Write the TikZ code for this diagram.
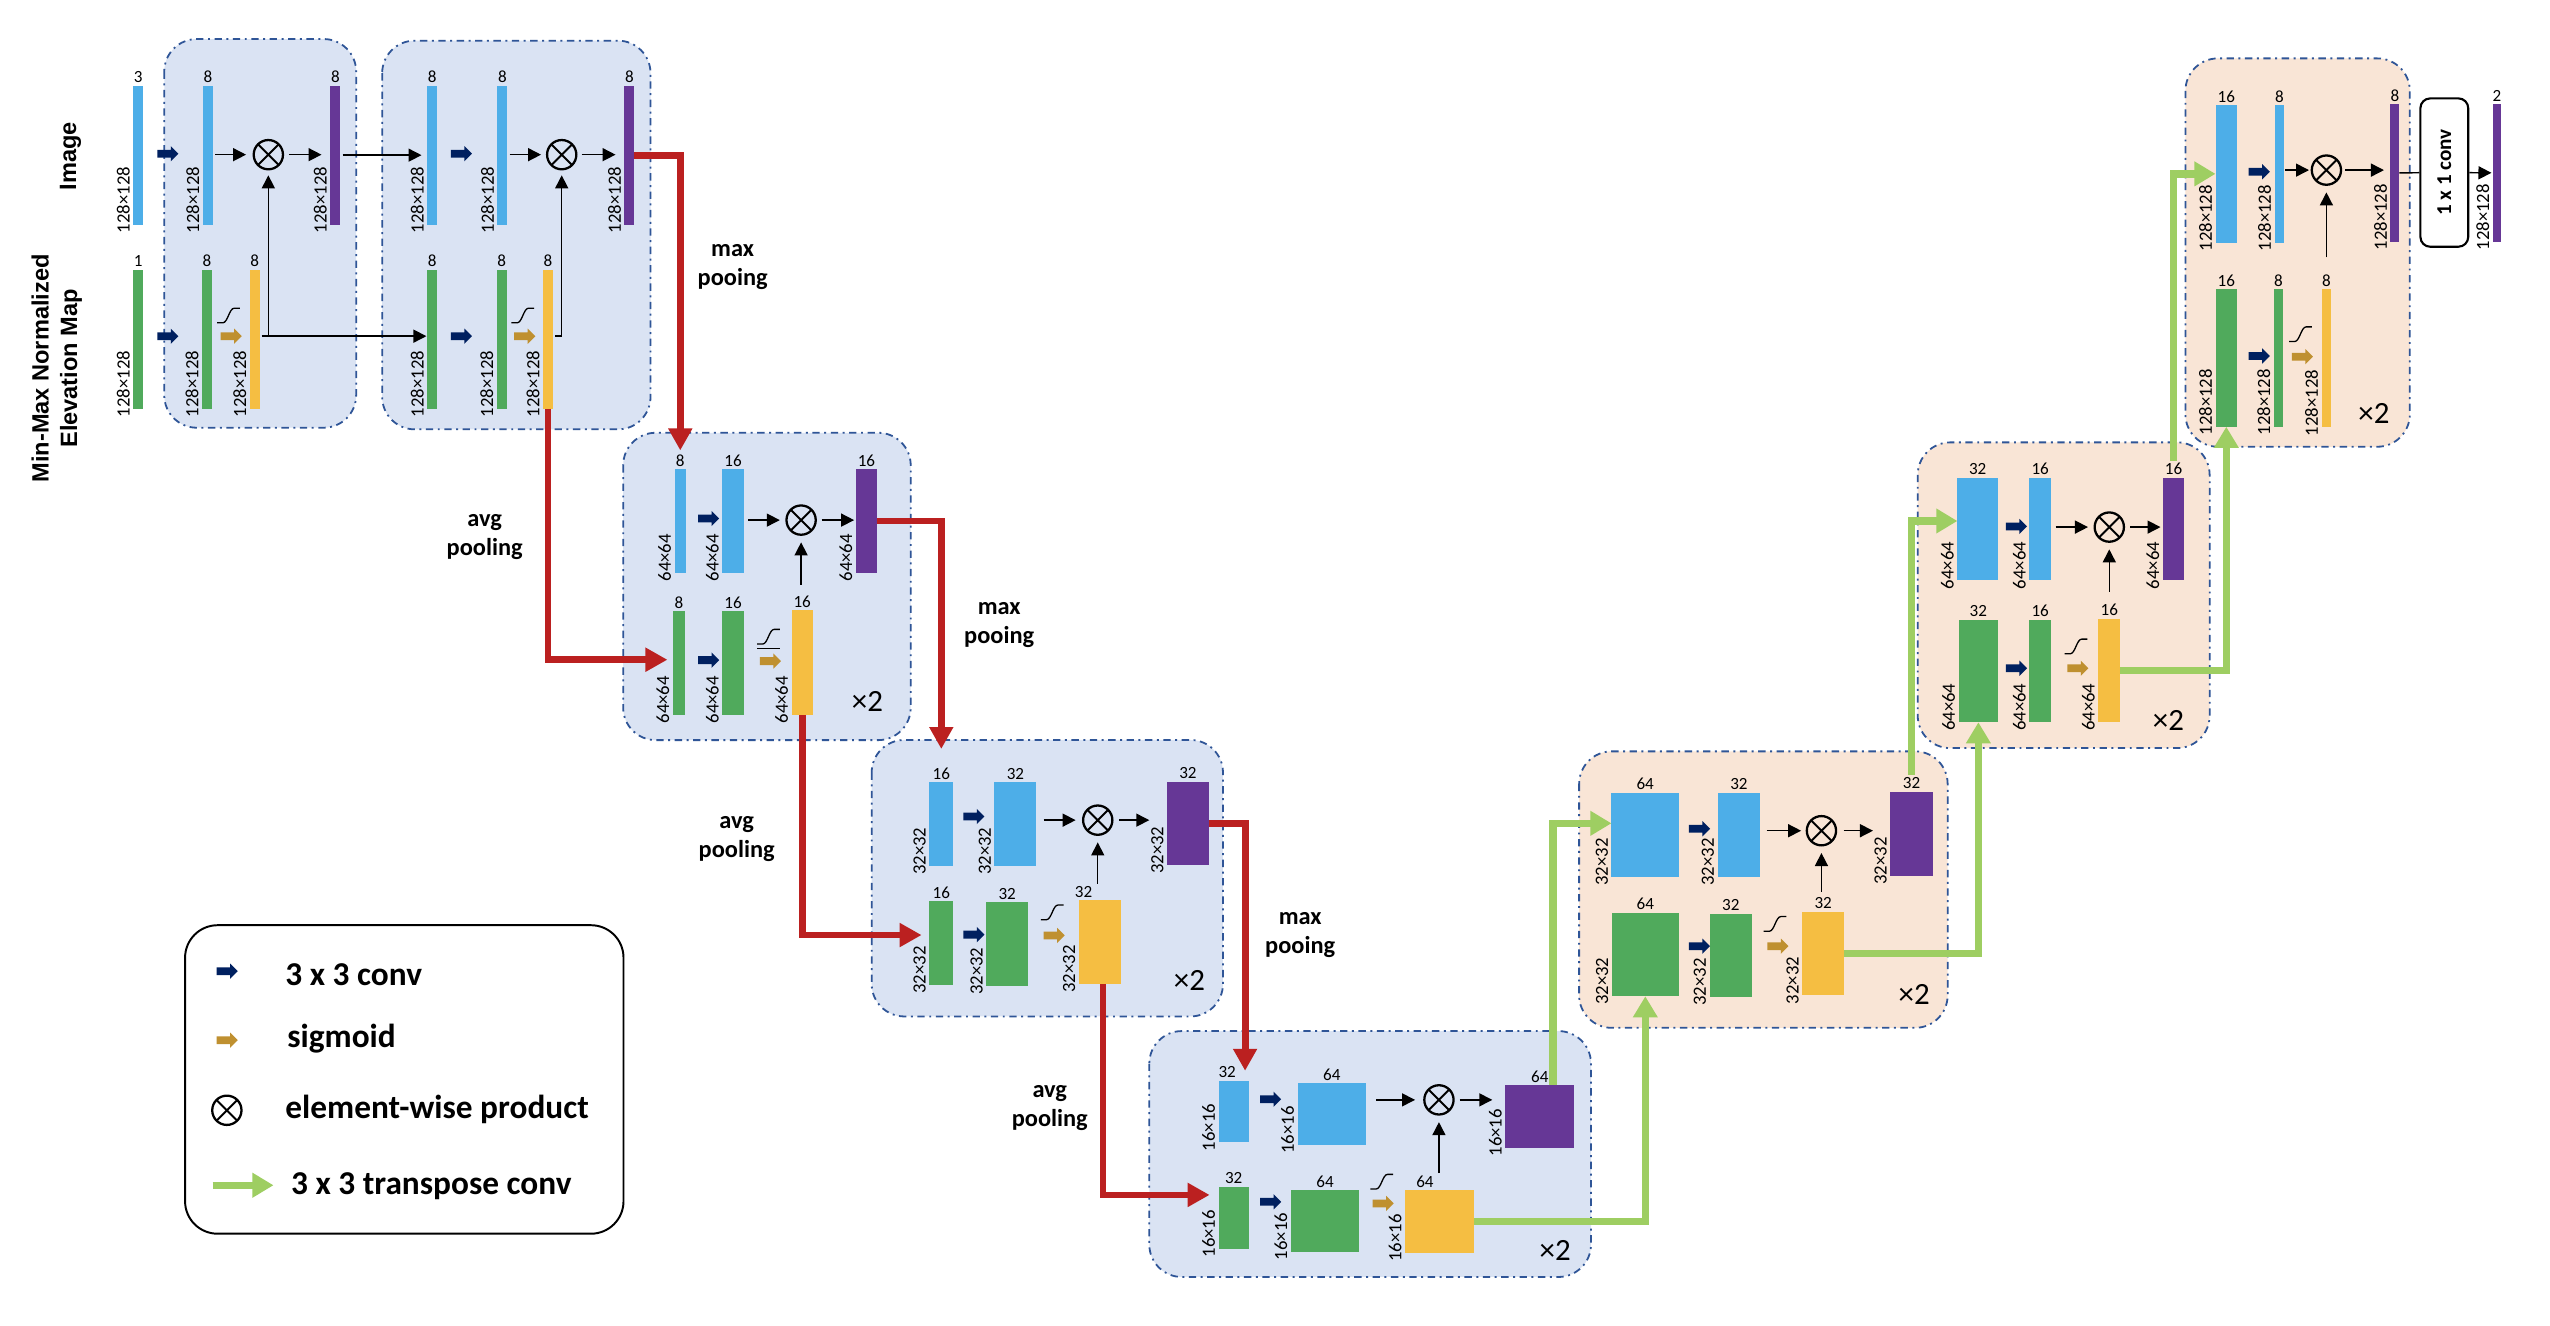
\documentclass[tikz,border=0pt]{standalone}
\usepackage{fontspec}
\setmainfont{Carlito}
\newfontfamily\headfont{Liberation Sans}
\usepackage{tikz}
\usetikzlibrary{positioning,arrows.meta,shapes.arrows,calc}
\definecolor{fmblue}  {RGB}{77,174,232}
\definecolor{fmgreen} {RGB}{80,170,92}
\definecolor{fmpurple}{RGB}{102,55,150}
\definecolor{fmyellow}{RGB}{245,190,66}
\definecolor{encfill} {RGB}{218,227,243}
\definecolor{decfill} {RGB}{249,229,214}
\definecolor{blkline} {RGB}{47,85,151}
\definecolor{convcol} {RGB}{0,32,96}
\definecolor{sigcol}  {RGB}{191,144,48}
\definecolor{poolcol} {RGB}{187,32,32}
\definecolor{upcol}   {RGB}{158,206,98}
% feature map: [shift of channel label] name, x, y, width, height, colour, channels, size
\newcommand{\fmap}[9][0]{%
  \node[fm={#5}{#6},fill=#7] (#2) at (#3,#4) {};
  \node[chn,xshift=#1pt] (#2n) at (#2.north) {#8};
  \node[dims] (#2d) at ($(#2.south west)+(-1.5,6)$) {#9};}

\begin{document}
\begin{tikzpicture}[
  x=1pt,y=-1pt,
  fm/.style 2 args={rectangle,draw=none,inner sep=0pt,outer sep=0pt,
               anchor=north west,minimum width=#1pt,minimum height=#2pt},
  chn/.style={anchor=south,inner sep=1.5pt,font=\fontsize{10.5}{11}\selectfont},
  dims/.style={rotate=90,anchor=south west,inner sep=0.5pt,
               font=\fontsize{11.5}{12}\selectfont},
  encblk/.style={draw=blkline,fill=encfill,line width=1.1pt,rounded corners=20pt,
               dash pattern=on 4.5pt off 2.8pt on 1.2pt off 2.8pt},
  decblk/.style={encblk,fill=decfill},
  convarr/.style={single arrow,fill=convcol,draw=none,inner xsep=0pt,inner ysep=2.2pt,
               minimum height=13pt,single arrow head extend=2.3pt},
  sigarr/.style={convarr,fill=sigcol},
  otimes/.style={circle,draw,line width=1.4pt,minimum size=18pt,inner sep=0pt,
               path picture={\draw[line width=1.2pt]
                 (path picture bounding box.north west)--(path picture bounding box.south east)
                 (path picture bounding box.north east)--(path picture bounding box.south west);}},
  arr/.style={-{Triangle[length=8pt,width=8pt]},line width=0.9pt,
              shorten <=1.5pt,shorten >=2pt},
  poolarr/.style={-{Triangle[length=13.5pt,width=14pt]},draw=poolcol,line width=4.2pt},
  uparr/.style={-{Triangle[length=13pt,width=14.5pt]},draw=upcol,line width=4.6pt},
  pool/.style={align=center,inner sep=0pt,font=\bfseries\fontsize{15}{17.7}\selectfont},
  rep/.style={inner sep=0pt,font=\fontsize{19}{20}\selectfont},
  inlbl/.style={rotate=90,align=center,inner sep=0pt,
               font=\headfont\bfseries\fontsize{14.5}{17.4}\selectfont},
  convbox/.style={draw,rounded corners=6pt,line width=1.3pt,rotate=90,inner sep=0pt,
               minimum width=91.2pt,minimum height=29.4pt,
               font=\bfseries\fontsize{13}{14}\selectfont},
  legbox/.style={draw,line width=1.2pt,rounded corners=20pt,inner sep=0pt,
               minimum width=269.6pt,minimum height=189.7pt},
  legtxt/.style={anchor=base west,inner sep=0pt,font=\bfseries\fontsize{20.5}{22}\selectfont},
  sigm/.pic={\draw[line width=0.8pt] (-7,4.5)--(-3.5,4.5)
             .. controls (-0.5,4.5) and (0.5,-4.5) .. (3.5,-4.5)--(7,-4.5);}
]
\fill[white] (0,0) rectangle (1568,815);
% blocks
\draw[encblk] (101,24) rectangle (219,263);
\draw[encblk] (235,25) rectangle (400,264);
\draw[encblk] (383.2,266.1) rectangle (560,455.1);
\draw[encblk] (536,455) rectangle (752,625);
\draw[encblk] (706.7,634) rectangle (978.3,785.2);
\draw[decblk] (971,462) rectangle (1197.6,632);
\draw[decblk] (1179.2,272) rectangle (1358.7,460);
\draw[decblk] (1343.8,35.9) rectangle (1481.8,274.7);

\node[inlbl] (imglbl) at (43.3,96) {Image};
\node[inlbl] (elvlbl) at (34.9,226.5) {Min-Max Normalized\\Elevation Map};

% inputs
\fmap{in1}{82}{52.7}{6}{85.4}{fmblue}{3}{128×128}
\fmap{in2}{82}{165.8}{6}{85.4}{fmgreen}{1}{128×128}

% block 1
\fmap{b1a}{124.8}{52.7}{6}{85.4}{fmblue}{8}{128×128}
\fmap{p1}{203.2}{52.7}{6}{85.4}{fmpurple}{8}{128×128}
\fmap{g1a}{124.3}{165.8}{6}{85.4}{fmgreen}{8}{128×128}
\fmap{y1}{153.6}{165.8}{6}{85.4}{fmyellow}{8}{128×128}
\node[convarr] (c1a) at (102,94.5) {};
\node[convarr] (c1b) at (102,206.7) {};
\node[sigarr] (s1) at (141,206.7) {};
\pic at (140.5,194) {sigm};
\node[otimes] (x1) at (165,95.1) {};
\draw[arr,shorten >=4pt] (b1a.east |- x1.center) -- (x1);
\draw[arr,shorten <=3pt,shorten >=5.5pt] (x1) -- (p1.west |- x1.center);
\draw[arr,shorten >=3pt] (y1.east |- s1.center) -| (x1);

% block 2
\fmap{b2a}{262.7}{52.7}{6}{85.4}{fmblue}{8}{128×128}
\fmap{b2b}{305.9}{52.7}{6}{85.4}{fmblue}{8}{128×128}
\fmap{p2}{384}{52.7}{6}{85.4}{fmpurple}{8}{128×128}
\fmap{g2a}{262.7}{165.8}{6}{85.4}{fmgreen}{8}{128×128}
\fmap{g2b}{305.5}{165.8}{6}{85.4}{fmgreen}{8}{128×128}
\fmap{y2}{334}{165.8}{6}{85.4}{fmyellow}{8}{128×128}
\node[convarr] (c2a) at (282.5,94.5) {};
\node[convarr] (c2b) at (282.5,206.7) {};
\node[sigarr] (s2) at (321.5,206.7) {};
\pic at (321.5,194) {sigm};
\node[otimes] (x2) at (345.4,95.1) {};
\draw[arr,shorten >=3.5pt] (p1) -- (b2a);
\draw[arr,shorten >=0.5pt] (y1.east |- s1.center) -- (g2a.west |- s1.center);
\draw[arr,shorten >=3pt] (b2b.east |- x2.center) -- (x2);
\draw[arr,shorten <=2.6pt,shorten >=5.5pt] (x2) -- (p2.west |- x2.center);
\draw[arr,shorten >=3pt] (y2.east |- s2.center) -| (x2);

% block 3
\fmap{b3a}{414.8}{288.6}{7}{63.6}{fmblue}{8}{64×64}
\fmap{b3b}{444.1}{288.6}{13.4}{63.6}{fmblue}{16}{64×64}
\fmap{p3}{526.2}{288.6}{13.2}{63.6}{fmpurple}{16}{64×64}
\fmap{g3a}{413.8}{375.8}{7.5}{63.7}{fmgreen}{8}{64×64}
\fmap{g3b}{444.1}{375.8}{13.4}{63.7}{fmgreen}{16}{64×64}
\fmap{y3}{486.8}{375.2}{12.9}{64.3}{fmyellow}{16}{64×64}
\node[convarr] (c3a) at (434.5,318.8) {};
\node[convarr] (c3b) at (434.5,405.9) {};
\node[sigarr] (s3) at (472.5,406.5) {};
\pic at (472.5,391.5) {sigm};
\draw[line width=0.7pt] (465.5,398.5) -- (479.5,398.5);
\node[otimes] (x3) at (492.6,319.8) {};
\draw[arr,shorten <=2.6pt,shorten >=3.4pt] (b3b.east |- x3.center) -- (x3);
\draw[arr,shorten <=2.9pt,shorten >=1pt] (x3) -- (p3.west |- x3.center);
\draw[arr,shorten <=5pt,shorten >=4pt] (x3 |- y3n.north) -- (x3);
\node[rep] (r3) at (533.4,431.5) {×2};

% block 4
\fmap{b4a}{571.4}{481.1}{14.8}{51.6}{fmblue}{16}{32×32}
\fmap{b4b}{611.5}{481.1}{25.8}{51.6}{fmblue}{32}{32×32}
\fmap{p4}{717.7}{480.7}{25.5}{51.3}{fmpurple}{32}{32×32}
\fmap{g4a}{571.4}{554.2}{14.8}{51.5}{fmgreen}{16}{32×32}
\fmap{g4b}{606.5}{554.8}{25.6}{51.6}{fmgreen}{32}{32×32}
\fmap[-10]{y4}{663.3}{553.7}{25.9}{51.3}{fmyellow}{32}{32×32}
\node[convarr] (c4a) at (597.6,502.1) {};
\node[convarr] (c4b) at (597.6,574.7) {};
\node[sigarr] (s4) at (647,575.2) {};
\pic at (647,561) {sigm};
\node[otimes] (x4) at (675,504.3) {};
\draw[arr,shorten <=4.4pt,shorten >=3.9pt] (b4b.east |- x4.center) -- (x4);
\draw[arr,shorten <=3.4pt,shorten >=11pt] (x4) -- (p4.west |- x4.center);
\draw[arr,shorten <=0pt,shorten >=4pt] (x4 |- y4n.north) -- (x4);
\node[rep] (r4) at (731.4,602.9) {×2};

% block 5
\fmap[-4]{b5a}{749.3}{664.4}{18.6}{38.1}{fmblue}{32}{16×16}
\fmap{b5b}{797.9}{666}{42}{38}{fmblue}{64}{16×16}
\fmap{p5}{925.6}{667.3}{42.4}{38.5}{fmpurple}{64}{16×16}
\fmap{g5a}{749.3}{729.7}{18.6}{38.1}{fmgreen}{32}{16×16}
\fmap{g5b}{793.7}{731.7}{42.1}{37.9}{fmgreen}{64}{16×16}
\fmap[-9]{y5}{864}{731.9}{42.4}{38.5}{fmyellow}{64}{16×16}
\node[convarr] (c5a) at (780.1,675.9) {};
\node[convarr] (c5b) at (780.1,739) {};
\node[sigarr] (s5) at (849.3,740) {};
\pic at (849.7,726.6) {sigm};
\node[otimes] (x5) at (884.8,676.3) {};
\draw[arr,shorten <=6.5pt,shorten >=5pt] (b5b.east |- x5.center) -- (x5);
\draw[arr,shorten <=3pt,shorten >=8pt] (x5) -- (p5.west |- x5.center);
\draw[arr,shorten <=0pt,shorten >=4pt] (x5 |- y5n.north) -- (x5);
\node[rep] (r5) at (956.3,768.8) {×2};

% block 6
\fmap{b6a}{990.9}{487.3}{41.4}{51.9}{fmblue}{64}{32×32}
\fmap{b6b}{1056.2}{487.3}{26.1}{51.9}{fmblue}{32}{32×32}
\fmap{p6}{1162.4}{486.8}{26.1}{51.9}{fmpurple}{32}{32×32}
\fmap{g6a}{991.1}{561.2}{41.2}{51.4}{fmgreen}{64}{32×32}
\fmap{g6b}{1051.2}{561.7}{26.1}{51.4}{fmgreen}{32}{32×32}
\fmap{y6}{1108.3}{560.5}{25.6}{51.6}{fmyellow}{32}{32×32}
\node[convarr] (c6a) at (1043.8,509.6) {};
\node[convarr] (c6b) at (1043.8,581.8) {};
\node[sigarr] (s6) at (1092,581.8) {};
\pic at (1091.5,568.1) {sigm};
\node[otimes] (x6) at (1120,510.8) {};
\draw[arr,shorten <=4pt,shorten >=2.8pt] (b6b.east |- x6.center) -- (x6);
\draw[arr,shorten <=3.9pt,shorten >=10.7pt] (x6) -- (p6.west |- x6.center);
\draw[arr,shorten <=2pt,shorten >=4pt] (x6 |- y6n.north) -- (x6);
\node[rep] (r6) at (1177,611.4) {×2};

% block 7
\fmap{b7a}{1203.6}{293.8}{25}{63.1}{fmblue}{32}{64×64}
\fmap{b7b}{1247.8}{293.8}{13.4}{63.1}{fmblue}{16}{64×64}
\fmap{p7}{1329.9}{293.8}{13.2}{63.1}{fmpurple}{16}{64×64}
\fmap{g7a}{1204.4}{381.1}{24.2}{63}{fmgreen}{32}{64×64}
\fmap{g7b}{1247.8}{381.1}{13.4}{63}{fmgreen}{16}{64×64}
\fmap{y7}{1290.3}{380.4}{13.5}{63.7}{fmyellow}{16}{64×64}
\node[convarr] (c7a) at (1238.7,323.7) {};
\node[convarr] (c7b) at (1238.7,410.9) {};
\node[sigarr] (s7) at (1276.5,410.9) {};
\pic at (1276.5,397.5) {sigm};
\node[otimes] (x7) at (1297,324.1) {};
\draw[arr,shorten <=2.8pt,shorten >=3.4pt] (b7b.east |- x7.center) -- (x7);
\draw[arr,shorten <=3.3pt,shorten >=1.4pt] (x7) -- (p7.west |- x7.center);
\draw[arr,shorten <=6pt,shorten >=4pt] (x7 |- y7n.north) -- (x7);
\node[rep] (r7) at (1333.4,443) {×2};

% block 8
\fmap{b8a}{1362.3}{64.6}{13.3}{84.6}{fmblue}{16}{128×128}
\fmap{b8b}{1398.6}{64.6}{6.1}{84.6}{fmblue}{8}{128×128}
\fmap{p8}{1469.9}{64}{5.5}{84.6}{fmpurple}{8}{128×128}
\fmap{g8a}{1362.3}{177.9}{13.3}{84.5}{fmgreen}{16}{128×128}
\fmap{g8b}{1398.2}{177.9}{5.7}{84.5}{fmgreen}{8}{128×128}
\fmap{y8}{1427.5}{177.9}{6.1}{84.9}{fmyellow}{8}{128×128}
\node[convarr] (c8a) at (1388,105.6) {};
\node[convarr] (c8b) at (1388,218.9) {};
\node[sigarr] (s8) at (1414.5,219.3) {};
\pic at (1414.5,205.5) {sigm};
\node[otimes] (x8) at (1430.5,104.6) {};
\draw[arr,shorten <=0.5pt,shorten >=1pt] (b8b.east |- x8.center) -- (x8);
\draw[arr,shorten <=1.9pt,shorten >=4pt] (x8) -- (p8.west |- x8.center);
\draw[arr,shorten <=9pt,shorten >=4pt] (x8 |- y8n.north) -- (x8);
\node[rep] (r8) at (1459.7,254.2) {×2};

% output
\node[convbox] (cv) at (1503,106.1) {1 x 1 conv};
\fmap{fo}{1532.8}{64}{5.2}{84.6}{fmpurple}{2}{128×128}
\draw[line width=0.9pt] (p8) -- (cv);
\draw[arr,shorten <=0pt,shorten >=0.8pt] (cv) -- (fo);

% pooling
\draw[poolarr,shorten >=1pt] (p2.east) -| (b3an.north);
\draw[poolarr,shorten >=3.4pt] (y2.south) |- ([yshift=2pt]g3a.west);
\draw[poolarr,shorten >=10pt] (p3.east) -| (b4an.north);
\draw[poolarr,shorten >=4.7pt] (y3.south) |- ([yshift=5pt]g4a.west);
\draw[poolarr,shorten >=6pt] (p4.east) -| ([xshift=7pt]b5a.north);
\draw[poolarr,shorten >=5.5pt] ([xshift=2pt]y4.south) |- ([yshift=14pt]g5a.west);
\node[pool] (mp1) at (450.5,164) {max\\pooing};
\node[pool] (ap1) at (298,330) {avg\\pooling};
\node[pool] (mp2) at (614.4,384.4) {max\\pooing};
\node[pool] (ap2) at (453,516) {avg\\pooling};
\node[pool] (mp3) at (799.5,575) {max\\pooing};
\node[pool] (ap3) at (645.5,681.5) {avg\\pooling};

% transpose conv
\draw[uparr] ([xshift=8pt]p5.north) |- ([yshift=7pt]b6a.west);
\draw[uparr] (y5.east) -| (g6a.south);
\draw[uparr] (p6n.north) |- ([yshift=5pt]b7a.west);
\draw[uparr] (y6.east) -| (g7a.south);
\draw[uparr] (p7n.north) |- (b8a.west);
\draw[uparr] (y7.east) -| (g8a.south);

% legend
\node[legbox] (leg) at (248.6,663.75) {};
\node[convarr] (lc) at (138.5,597.2) {};
\node[legtxt] (lct) at (175.3,605.8) {3 x 3 conv};
\node[sigarr] (ls) at (138.5,639.6) {};
\node[legtxt] (lst) at (176.5,644.2) {sigmoid};
\node[otimes] (lx) at (139.5,682.7) {};
\node[legtxt] (lxt) at (175.3,687.8) {element-wise product};
\coordinate (lga) at (130.8,728.8);
\coordinate (lgb) at (168.2,728.8);
\draw[uparr] (lga) -- (lgb);
\node[legtxt] (lgt) at (178.8,734.4) {3 x 3 transpose conv};
\end{tikzpicture}
\end{document}
